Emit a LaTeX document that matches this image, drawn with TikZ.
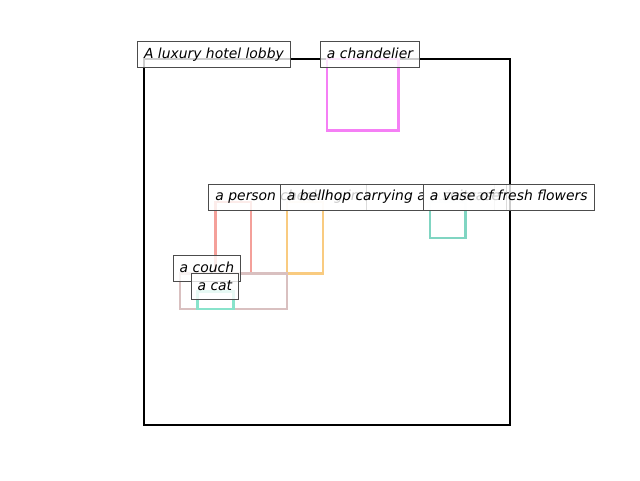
\documentclass[tikz,border=0pt]{standalone}
\usepackage{fontspec}
\setmainfont{DejaVu Sans}
\usetikzlibrary{positioning}

\definecolor{chandcol}{HTML}{F57FF5}
\definecolor{personcol}{HTML}{F4A09A}
\definecolor{bellcol}{HTML}{F9CB80}
\definecolor{suitcol}{HTML}{80D5C2}
\definecolor{couchcol}{HTML}{D9C0C0}
\definecolor{catcol}{HTML}{88E3CB}

\tikzset{
  objbox/.style={line width=2.4pt},
  tag/.style={draw=black!70, line width=1pt, fill=white, fill opacity=0.8,
    text opacity=1, inner xsep=6.5pt, inner ysep=6.5pt, text height=10pt,
    text depth=3pt, anchor=west, xshift=-7pt, yshift=4.5pt,
    font=\fontsize{13.9}{16}\selectfont\itshape}
}

\begin{document}
\begin{tikzpicture}[x=1pt,y=-1pt]
\useasboundingbox (0,0) rectangle (640,480);
% boxes, in units of the scene (0..512)
\begin{scope}[xshift=144pt, yshift=-59pt, x=0.7148pt, y=-0.7148pt]
  \draw[objbox, black] (0,0) rectangle (512,512);
  \foreach \nm/\bx/\by/\bw/\bh/\col in {
      chandelier/256/0/100/100/chandcol,
      person/100/200/50/100/personcol,
      bellhop/200/200/50/100/bellcol,
      suitcase/400/200/50/50/suitcol,
      vase/400/200/50/50/suitcol,
      couch/50/300/150/50/couchcol,
      cat/75/325/50/25/catcol} {
    \draw[objbox, \col] (\bx,\by) coordinate (\nm) rectangle ++(\bw,\bh);
  }
  % labels at the top left of each box
  \coordinate (lobby) at (0,0);
  \foreach \nm/\txt in {
      lobby/A luxury hotel lobby,
      chandelier/a chandelier,
      person/a person checking in,
      bellhop/a bellhop carrying a suitcase,
      suitcase/a suitcase,
      vase/a vase of fresh flowers,
      couch/a couch,
      cat/a cat} {
    \node[tag] (\nm-tag) at (\nm) {\txt};
  }
\end{scope}
\end{tikzpicture}
\end{document}
